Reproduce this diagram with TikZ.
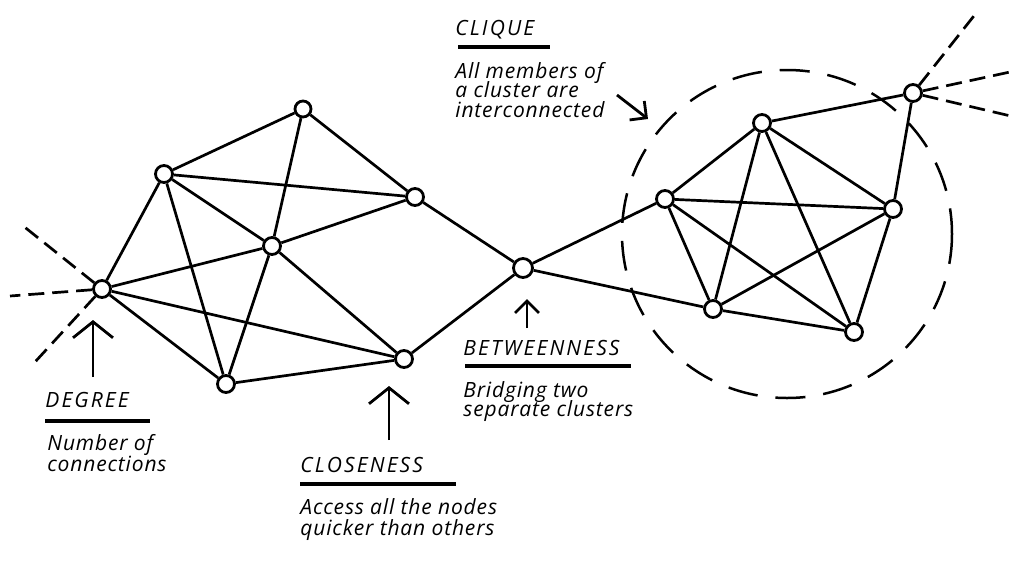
\documentclass[tikz,border=0pt]{standalone}
\usepackage{fontspec}
\setmainfont{Open Sans}
\usetikzlibrary{arrows.meta}
\begin{document}
\begin{tikzpicture}[x=0.5pt,y=-0.5pt,
  dot/.style={circle,draw,fill=white,line width=1.4pt,minimum size=8.5pt,inner sep=0pt},
  edge/.style={line width=1.35pt},
  ext/.style={line width=1.35pt,dash pattern=on 8pt off 4pt},
  hull/.style={line width=1.25pt,dash pattern=on 15pt off 9pt},
  pointer/.style={line width=1.4pt,-{Straight Barb[length=8pt,width=20pt]}},
  smallpointer/.style={line width=1.4pt,-{Straight Barb[length=6pt,width=12pt]}},
  title/.style={anchor=base west,inner sep=0pt,font=\fontsize{10.5}{12}\selectfont\itshape\addfontfeatures{LetterSpace=10}},
  body/.style={anchor=base west,inner sep=0pt,font=\fontsize{10.5}{12}\selectfont\itshape\addfontfeatures{LetterSpace=4}},
  rule/.style={line width=1.7pt}]
\useasboundingbox (0,0) rectangle (1024,569);

% dashed hull of the clique
\draw[hull] (787,234) ellipse [x radius=165, y radius=164];

% left cluster nodes
\node[dot] (D)  at (102,289) {};
\node[dot] (A)  at (164,174) {};
\node[dot,minimum size=8pt] (T)  at (303,109) {};
\node[dot] (C)  at (272,246) {};
\node[dot] (R)  at (415,197) {};
\node[dot] (Bn) at (226,384) {};
\node[dot] (Cl) at (404,359) {};
% bridge
\node[dot,minimum size=9.5pt] (B) at (523,268) {};
% clique
\node[dot] (K1) at (665,199) {};
\node[dot] (K2) at (762,123) {};
\node[dot] (K3) at (893,209) {};
\node[dot] (K4) at (713,309) {};
\node[dot] (K5) at (854,332) {};
\node[dot] (E)  at (913,93) {};

% free ends
\coordinate (d1) at (22,225);
\coordinate (d2) at (10,296);
\coordinate (d3) at (35,362);
\coordinate (e1) at (977,12);
\coordinate (e2) at (1010,72);
\coordinate (e3) at (1015,117);

% edges left cluster
\draw[edge] (D) -- (A);
\draw[edge] (D) -- (C);
\draw[edge] (D) -- (Cl);
\draw[edge] (D) -- (Bn);
\draw[edge] (A) -- (T);
\draw[edge] (A) -- (R);
\draw[edge] (A) -- (C);
\draw[edge] (A) -- (Bn);
\draw[edge] (T) -- (C);
\draw[edge] (T) -- (R);
\draw[edge] (C) -- (R);
\draw[edge] (C) -- (Cl);
\draw[edge] (C) -- (Bn);
\draw[edge] (Bn) -- (Cl);
% bridge edges
\draw[edge] (R) -- (B);
\draw[edge] (Cl) -- (B);
\draw[edge] (B) -- (K1);
\draw[edge] (B) -- (K4);
% clique edges
\draw[edge] (K1) -- (K2);
\draw[edge] (K1) -- (K3);
\draw[edge] (K1) -- (K4);
\draw[edge] (K1) -- (K5);
\draw[edge] (K2) -- (K3);
\draw[edge] (K2) -- (K4);
\draw[edge] (K2) -- (K5);
\draw[edge] (K3) -- (K4);
\draw[edge] (K3) -- (K5);
\draw[edge] (K4) -- (K5);
\draw[edge] (K2) -- (E);
\draw[edge] (K3) -- (E);
% external dashed edges
\draw[ext] (D) -- (d1);
\draw[ext] (D) -- (d2);
\draw[ext] (D) -- (d3);
\draw[ext] (E) -- (e1);
\draw[ext] (E) -- (e2);
\draw[ext] (E) -- (e3);

% pointers
\coordinate (pd0) at (93,377);  \coordinate (pd1) at (93,320);
\coordinate (pc0) at (389,440); \coordinate (pc1) at (389,386);
\coordinate (pb0) at (527,328); \coordinate (pb1) at (527,299);
\coordinate (pq0) at (617,95);  \coordinate (pq1) at (648,119);
\draw[pointer] (pd0) -- (pd1);
\draw[pointer] (pc0) -- (pc1);
\draw[smallpointer] (pb0) -- (pb1);
\draw[smallpointer] (pq0) -- (pq1);

% labels
\node[title] (tdeg) at (45,407) {DEGREE};
\draw[rule] (45,421) -- (150,421);
\node[body] (bdeg1) at (47,450) {Number of};
\node[body] (bdeg2) at (47,471) {connections};

\node[title] (tclo) at (300,472) {CLOSENESS};
\draw[rule] (300,484) -- (456,484);
\node[body] (bclo1) at (300,514) {Access all the nodes};
\node[body] (bclo2) at (300,535) {quicker than others};

\node[title] (tbet) at (463,355) {BETWEENNESS};
\draw[rule] (465,366) -- (631,366);
\node[body] (bbet1) at (463,397) {Bridging two};
\node[body] (bbet2) at (463,416) {separate clusters};

\node[title] (tcli) at (455,35) {CLIQUE};
\draw[rule] (458,47) -- (550,47);
\node[body] (bcli1) at (455,78) {All members of};
\node[body] (bcli2) at (455,97) {a cluster are};
\node[body] (bcli3) at (455,117) {interconnected};
\end{tikzpicture}
\end{document}
